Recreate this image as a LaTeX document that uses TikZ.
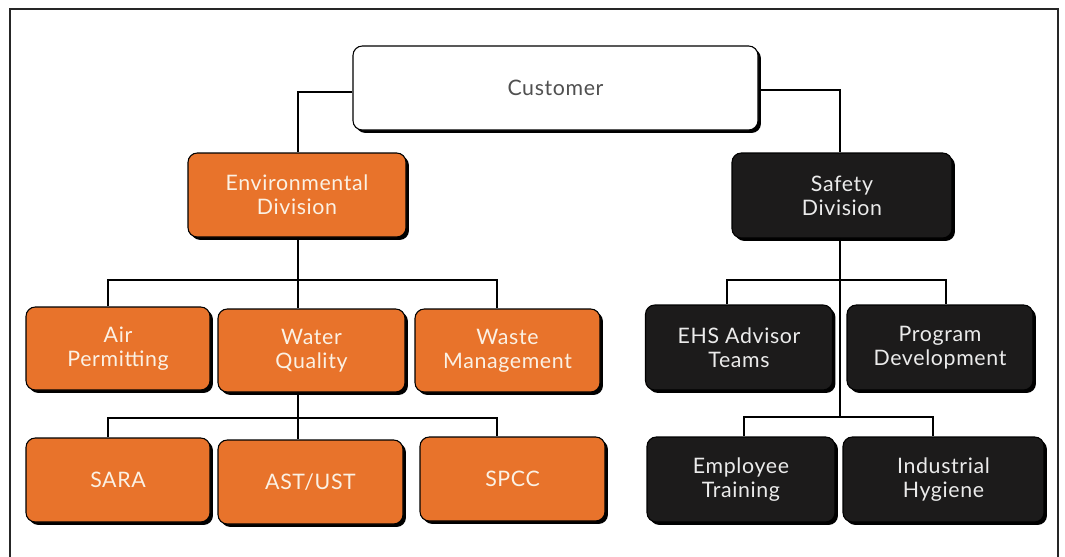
\documentclass[tikz,border=0pt]{standalone}
\usepackage{fontspec}
\setmainfont{Lato}[LetterSpace=3]
\usetikzlibrary{shadows}
\definecolor{envorange}{HTML}{E8732B}
\definecolor{safedark}{HTML}{1C1B1B}
\definecolor{creamtxt}{HTML}{FBF1E4}
\definecolor{greytxt}{HTML}{505050}
\tikzset{
  box/.style={draw=black, line width=0.8pt, rounded corners=7pt, align=center,
    inner sep=0pt, font=\fontsize{16}{18}\selectfont,
    drop shadow={shadow xshift=2.2pt, shadow yshift=-2.2pt, fill=black, opacity=1}},
  custbox/.style={box, fill=white, text=greytxt},
  envbox/.style={box, fill=envorange, text=creamtxt},
  safebox/.style={box, fill=safedark, text=white!92!black},
  sz/.style 2 args={minimum width={#1*0.75pt}, minimum height={#2*0.75pt}},
  conn/.style={line width=1.8pt, black},
  frame/.style={line width=0.9pt, black!85}
}
\begin{document}
\begin{tikzpicture}[x=0.75pt, y=-0.75pt]
\useasboundingbox (0,0) rectangle (1065,557);
\draw[frame] (10,557) -- (10,9) -- (1058,9) -- (1058,557);

% junction coordinates
\coordinate (b1) at (298,280);
\coordinate (b2) at (298,418);
\coordinate (dl1) at (108,280);
\coordinate (dr1) at (497,280);
\coordinate (dl2) at (108,418);
\coordinate (dr2) at (497,418);
\coordinate (sb1) at (840,280);
\coordinate (sb2) at (840,417);
\coordinate (sl1) at (727,280);
\coordinate (sr1) at (946,280);
\coordinate (sl2) at (744,417);
\coordinate (sr2) at (933,417);

% nodes
\node[custbox, sz={405}{84}] (cust) at (555.5,88) {Customer};
\node[envbox, sz={218}{84}] (env) at (297,195) {Environmental\\Division};
\node[safebox, sz={220}{85}] (safe) at (842,195.5) {Safety\\Division};

\node[envbox, sz={184}{83}] (air) at (118,348.5) {Air\\Permitting};
\node[envbox, sz={187}{83}] (water) at (311.5,350.5) {Water\\Quality};
\node[envbox, sz={185}{83}] (waste) at (507.5,350.5) {Waste\\Management};

\node[envbox, sz={184}{84}] (sara) at (118,480) {SARA};
\node[envbox, sz={185}{84}] (ast) at (310.5,482) {AST/UST};
\node[envbox, sz={185}{84}] (spcc) at (512.5,479) {SPCC};

\node[safebox, sz={187}{85}] (ehs) at (739,347.5) {EHS Advisor\\Teams};
\node[safebox, sz={186}{85}] (prog) at (940,347.5) {Program\\Development};
\node[safebox, sz={188}{85}] (emp) at (741,479.5) {Employee\\Training};
\node[safebox, sz={201}{85}] (ind) at (943.5,479.5) {Industrial\\Hygiene};

% connectors
\draw[conn] ([yshift=-3pt]cust.west) -| (b1 |- env.north);
\draw[conn] ([yshift=-1.5pt]cust.east) -| (sb1 |- safe.north);

\draw[conn] (b1 |- env.south) -- (b1);
\draw[conn] (dl1 |- air.north) -- (dl1) -- (dr1) -- (dr1 |- waste.north);
\draw[conn] (b1) -- (b1 |- water.north);
\draw[conn] (b1 |- water.south) -- (b2);
\draw[conn] (dl2 |- sara.north) -- (dl2) -- (dr2) -- (dr2 |- spcc.north);
\draw[conn] (b2) -- (b2 |- ast.north);

\draw[conn] (sb1 |- safe.south) -- (sb2);
\draw[conn] (sl1 |- ehs.north) -- (sl1) -- (sr1) -- (sr1 |- prog.north);
\draw[conn] (sl2 |- emp.north) -- (sl2) -- (sr2) -- (sr2 |- ind.north);
\end{tikzpicture}
\end{document}
